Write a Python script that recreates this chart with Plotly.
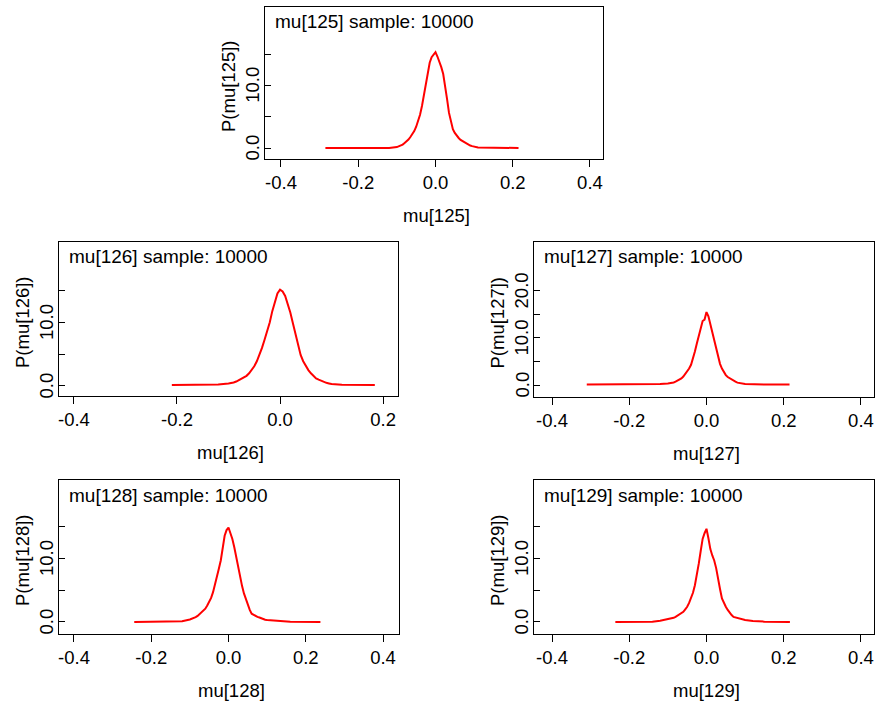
import plotly.graph_objects as go

W, H = 876, 701

# ---------------- data ----------------
CORE_X = [-0.100, -0.095, -0.090, -0.085, -0.080, -0.075, -0.070, -0.065, -0.060, -0.055,
          -0.050, -0.045, -0.040, -0.035, -0.030, -0.025, -0.020, -0.015, -0.010, -0.005,
          0.000, 0.005, 0.010, 0.015, 0.020, 0.025, 0.030, 0.035, 0.040, 0.045,
          0.050, 0.055, 0.060, 0.065, 0.070, 0.075, 0.080, 0.085, 0.090, 0.095, 0.100]

mu125_x = [-0.285, -0.12] + CORE_X + [0.11, 0.215]
mu125_y = [0.0, 0.02,
           0.15, 0.25, 0.40, 0.55, 0.80, 1.05, 1.35, 1.75, 2.20, 2.70,
           3.40, 4.30, 5.30, 6.70, 8.40, 10.30, 12.10, 13.60, 14.50, 15.00,
           15.30, 14.60, 13.80, 12.90, 11.80, 10.00, 7.80, 5.60, 4.00, 3.00,
           2.40, 1.90, 1.60, 1.30, 1.10, 0.90, 0.70, 0.55, 0.40, 0.30, 0.20,
           0.08, 0.0]

mu126_x = [-0.21, -0.18, -0.15, -0.12] + CORE_X + [0.12, 0.15, 0.184]
mu126_y = [0.15, 0.15, 0.20, 0.25,
           0.40, 0.45, 0.55, 0.70, 0.90, 1.10, 1.30, 1.60, 2.00, 2.50,
           3.10, 3.90, 4.90, 6.00, 7.30, 8.60, 10.00, 11.80, 13.40, 14.60,
           15.20, 14.90, 14.20, 13.00, 11.60, 9.90, 8.10, 6.40, 4.90, 3.90,
           3.10, 2.50, 2.00, 1.60, 1.20, 1.00, 0.80, 0.65, 0.50, 0.40, 0.30,
           0.20, 0.20, 0.15]

mu127_x = [-0.31, -0.20, -0.17, -0.12] + CORE_X + [0.15, 0.17, 0.215]
mu127_y = [0.10, 0.10, 0.15, 0.20,
           0.30, 0.35, 0.45, 0.55, 0.70, 0.90, 1.10, 1.40, 1.80, 2.30,
           2.80, 3.50, 4.30, 5.60, 7.10, 8.80, 10.60, 12.00, 13.60, 13.90,
           15.50, 14.60, 12.80, 11.00, 9.20, 7.40, 5.70, 4.50, 3.50, 2.70,
           2.10, 1.70, 1.40, 1.10, 0.90, 0.70, 0.50, 0.40, 0.30, 0.25, 0.20,
           0.10, 0.15, 0.10]

mu128_x = [-0.244, -0.12] + CORE_X + [0.12, 0.14, 0.16, 0.238]
mu128_y = [0.0, 0.10,
           0.40, 0.50, 0.60, 0.75, 0.95, 1.20, 1.50, 1.80, 2.10, 2.60,
           3.10, 3.80, 4.70, 5.80, 7.10, 8.40, 9.70, 11.80, 13.60, 14.50,
           14.90, 14.00, 13.10, 11.80, 10.20, 8.70, 7.10, 5.70, 4.50, 3.50,
           2.60, 1.90, 1.30, 1.10, 0.95, 0.80, 0.70, 0.55, 0.45, 0.35, 0.30,
           0.20, 0.15, 0.05, 0.0]

mu129_x = [-0.236, -0.14, -0.12] + CORE_X + [0.12, 0.15, 0.216]
mu129_y = [0.0, 0.05, 0.20,
           0.40, 0.50, 0.55, 0.65, 0.80, 1.00, 1.20, 1.40, 1.60, 2.00,
           2.40, 3.00, 3.70, 4.60, 5.80, 7.30, 9.20, 11.20, 13.10, 14.00,
           14.70, 13.20, 11.50, 10.50, 9.70, 8.50, 7.10, 5.20, 3.70, 3.00,
           2.40, 1.90, 1.40, 1.10, 0.80, 0.70, 0.60, 0.50, 0.40, 0.35, 0.30,
           0.15, 0.05, 0.0]

names = ["mu[125]", "mu[126]", "mu[127]", "mu[128]", "mu[129]"]
xs = [mu125_x, mu126_x, mu127_x, mu128_x, mu129_x]
ys = [mu125_y, mu126_y, mu127_y, mu128_y, mu129_y]
sample_size = 10000

x_ticks = [[-0.4, -0.2, 0.0, 0.2, 0.4], [-0.4, -0.2, 0.0, 0.2], [-0.4, -0.2, 0.0, 0.2, 0.4],
           [-0.4, -0.2, 0.0, 0.2, 0.4], [-0.4, -0.2, 0.0, 0.2, 0.4]]
y_ticks = [[0, 5, 10, 15], [0, 5, 10, 15], [0, 5, 10, 15, 20], [0, 5, 10, 15], [0, 5, 10, 15]]
y_labelled = [[0, 10], [0, 10], [0, 10, 20], [0, 10], [0, 10]]

# ---------------- layout (pixel geometry) ----------------
boxes = [(265, 603, 7, 159), (59, 398, 242, 396), (534, 874, 242, 397),
         (59, 399, 480, 634), (534, 874, 480, 634)]
x_ranges = [(-0.4414, 0.4337), (-0.429, 0.229), (-0.4466, 0.4337),
            (-0.4388, 0.4414), (-0.4466, 0.4337)]
y_ranges = [(-1.755, 22.5), (-1.58, 22.7), (-2.55, 30.4), (-1.9, 22.4), (-1.9, 22.4)]

FONT = "Liberation Sans, Arial, sans-serif"
FS = 18.5

fig = go.Figure()
layout = dict(width=W, height=H, margin=dict(l=0, r=0, t=0, b=0),
              paper_bgcolor="white", plot_bgcolor="white", showlegend=False,
              font=dict(family=FONT, size=FS, color="black"))
annotations = []

def px(x):
    return x / W

def py(y):
    return 1 - y / H

for i in range(5):
    k = "" if i == 0 else str(i + 1)
    l, r, t, b = boxes[i]
    fig.add_trace(go.Scatter(x=xs[i], y=ys[i], mode="lines",
                             line=dict(color="#ff0000", width=2),
                             xaxis="x" + k, yaxis="y" + k, hoverinfo="skip"))
    layout["xaxis" + k] = dict(domain=[px(l), px(r)], range=list(x_ranges[i]),
                               anchor="y" + k, showgrid=False, zeroline=False,
                               showline=True, mirror=True, linecolor="black", linewidth=1,
                               ticks="outside", ticklen=7, tickcolor="black", tickwidth=1,
                               tickvals=x_ticks[i], ticktext=[f"{v:.1f}" for v in x_ticks[i]],
                               tickfont=dict(family=FONT, size=FS, color="black"))
    layout["yaxis" + k] = dict(domain=[py(b), py(t)], range=list(y_ranges[i]),
                               anchor="x" + k, showgrid=False, zeroline=False,
                               showline=True, mirror=True, linecolor="black", linewidth=1,
                               ticks="inside", ticklen=6, tickcolor="black", tickwidth=1,
                               tickvals=y_ticks[i], showticklabels=False)
    # y tick labels (rotated), positioned on the y scale
    for v in y_labelled[i]:
        annotations.append(dict(text=f"{v:.1f}", xref="paper", yref="y" + k,
                                x=px(l - 12.5), y=v, xanchor="center", yanchor="middle",
                                textangle=-90, showarrow=False,
                                font=dict(family=FONT, size=FS, color="black")))
    annotations.append(dict(text=f"{names[i]} sample: {sample_size}", xref="paper", yref="paper",
                            x=px(l + 8), y=py(t + 15), xanchor="left", yanchor="middle",
                            showarrow=False, font=dict(family=FONT, size=19, color="black")))
    annotations.append(dict(text=names[i], xref="paper", yref="paper",
                            x=px((l + r) / 2 + 2), y=py(b + 56), xanchor="center", yanchor="middle",
                            showarrow=False, font=dict(family=FONT, size=FS, color="black")))
    annotations.append(dict(text=f"P({names[i]})", xref="paper", yref="paper",
                            x=px(l - 37), y=py((t + b) / 2 + 3), xanchor="center", yanchor="middle",
                            textangle=-90, showarrow=False,
                            font=dict(family=FONT, size=FS, color="black")))

layout["annotations"] = annotations
fig.update_layout(**layout)
fig.write_html("out.html")
